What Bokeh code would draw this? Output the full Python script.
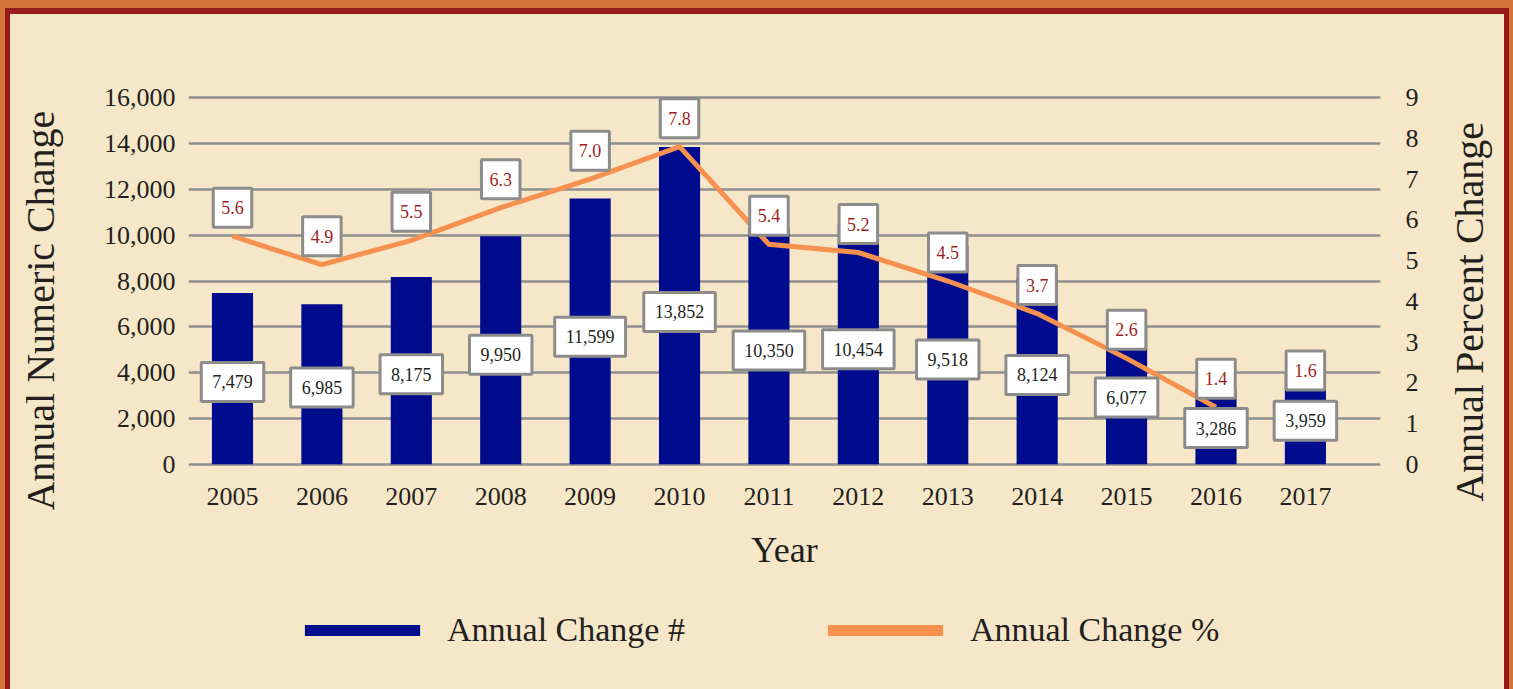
import math
from bokeh.plotting import figure
from bokeh.layouts import column, row
from bokeh.models import (ColumnDataSource, Range1d, LinearAxis, FixedTicker,
                          NumeralTickFormatter, Legend, LegendItem, Label)
from bokeh.embed import file_html
from bokeh.resources import INLINE
from bokeh.core.properties import value

# ---------------- data ----------------
years = [2005, 2006, 2007, 2008, 2009, 2010, 2011, 2012, 2013, 2014, 2015, 2016, 2017]
annual_change = [7479, 6985, 8175, 9950, 11599, 13852, 10350, 10454, 9518, 8124, 6077, 3286, 3959]
annual_pct = [5.6, 4.9, 5.5, 6.3, 7.0, 7.8, 5.4, 5.2, 4.5, 3.7, 2.6, 1.4, 1.6]
# in the source the percentage line stops at 2016
line_years = years[:-1]
line_pct = annual_pct[:-1]
left_ticks = [0, 2000, 4000, 6000, 8000, 10000, 12000, 14000, 16000]
right_ticks = [0, 1, 2, 3, 4, 5, 6, 7, 8, 9]

# ---------------- style ----------------
FONT = "Liberation Serif"
CREAM = "#F6E7C9"
NAVY = "#000B8D"
ORANGE = "#F79150"
GRID = "#8E8E90"
BOXLINE = "#8C8C8C"
PCT_TEXT = "#9E1F23"
TEXT = "#231F20"

TOP_H = 590

def no_align(f):
    if hasattr(f, "frame_align"):
        f.frame_align = False
    return f

def blank_fig(w, h):
    f = figure(width=w, height=h, x_range=Range1d(0, 1), y_range=Range1d(0, 1),
               x_axis_type=None, y_axis_type=None, output_backend="svg",
               toolbar_location=None, min_border=0,
               border_fill_color=CREAM, background_fill_color=CREAM,
               outline_line_color=None)
    f.xgrid.visible = False
    f.ygrid.visible = False
    return no_align(f)

p = figure(width=1374, height=TOP_H,
           x_range=Range1d(2004.508, 2017.84),
           y_range=Range1d(-100, 16100),
           output_backend="svg", toolbar_location=None,
           min_border_left=118, min_border_right=64,
           min_border_top=81, min_border_bottom=138,
           background_fill_color=CREAM, border_fill_color=CREAM,
           outline_line_color=None)
no_align(p)
p.extra_y_ranges = {"pct": Range1d(-100 / 16000 * 9, 9 + 100 / 16000 * 9)}

def style_axis(ax):
    ax.axis_line_color = None
    ax.major_tick_line_color = None
    ax.minor_tick_line_color = None
    ax.major_tick_out = 0
    ax.major_tick_in = 0
    ax.major_label_text_font = FONT
    ax.major_label_text_font_size = "26px"
    ax.major_label_text_color = TEXT
    ax.axis_label_text_font = FONT
    ax.axis_label_text_font_style = "normal"
    ax.axis_label_text_color = TEXT

# x axis
xa = p.xaxis[0]
style_axis(xa)
xa.ticker = FixedTicker(ticks=years)
xa.axis_label = "Year"
xa.axis_label_text_font_size = "36px"
xa.major_label_standoff = 21
xa.axis_label_standoff = 22

# left axis
ya = p.yaxis[0]
style_axis(ya)
ya.ticker = FixedTicker(ticks=left_ticks)
ya.formatter = NumeralTickFormatter(format="0,0")
ya.major_label_standoff = 13

# right axis
ra = LinearAxis(y_range_name="pct", ticker=FixedTicker(ticks=right_ticks))
style_axis(ra)
ra.major_label_standoff = 25
p.add_layout(ra, "right")

p.xgrid.visible = False
p.ygrid.ticker = FixedTicker(ticks=left_ticks)
p.ygrid.grid_line_color = GRID
p.ygrid.grid_line_width = 2.5

# bars
bar_src = ColumnDataSource(dict(x=years, top=annual_change))
bars = p.vbar(x="x", top="top", width=0.46, bottom=0, source=bar_src,
              fill_color=NAVY, line_color=None)

# line
line_src = ColumnDataSource(dict(x=line_years, y=line_pct))
p.line(x="x", y="y", source=line_src, y_range_name="pct",
       line_color=ORANGE, line_width=5, line_join="miter")

# number labels (placed around half the bar)
num_src = ColumnDataSource(dict(x=years,
                                y=[v * 0.48 for v in annual_change],
                                text=[f"{v:,}" for v in annual_change]))
p.text(x="x", y="y", text="text", source=num_src,
       text_font=value(FONT), text_font_size="18px", text_color=TEXT,
       text_align="center", text_baseline="middle",
       background_fill_color="white", border_line_color=BOXLINE,
       border_line_width=3, padding=dict(left=11, right=11, top=13, bottom=13))

# percent labels (above the line)
pct_src = ColumnDataSource(dict(x=years,
                                y=[v + 0.7 for v in annual_pct],
                                text=[f"{v:.1f}" for v in annual_pct]))
p.text(x="x", y="y", text="text", source=pct_src, y_range_name="pct",
       text_font=value(FONT), text_font_size="18px", text_color=PCT_TEXT,
       text_align="center", text_baseline="middle",
       background_fill_color="white", border_line_color=BOXLINE,
       border_line_width=3, padding=dict(left=8, right=8, top=13, bottom=13))

# ---- axis titles (vertical, reading bottom-to-top) ----
lt = blank_fig(60, TOP_H)
lt.add_layout(Label(x=0.5, y=0.498, text="Annual Numeric Change",
                    angle=math.pi / 2, text_align="center", text_baseline="middle",
                    text_font=FONT, text_font_size="40px", text_color=TEXT))
rt = blank_fig(60, TOP_H)
rt.add_layout(Label(x=0.42, y=0.496, text="Annual Percent Change",
                    angle=math.pi / 2, text_align="center", text_baseline="middle",
                    text_font=FONT, text_font_size="40px", text_color=TEXT))

# ---- legend strip (swatch proxies sit outside the visible range) ----
lg = blank_fig(1494, 675 - TOP_H)
sw_bar = lg.vbar(x=[-5], top=[0], width=0.5, fill_color=NAVY, line_color=None)
sw_line = lg.vbar(x=[-5], top=[0], width=0.5, fill_color=ORANGE, line_color=None)
legend = Legend(items=[LegendItem(label="Annual Change #", renderers=[sw_bar]),
                       LegendItem(label="Annual Change %", renderers=[sw_line])],
                orientation="horizontal", location=(280, 40),
                glyph_width=144, glyph_height=14, label_standoff=13, spacing=128,
                label_text_font=FONT, label_text_font_size="34px",
                label_text_color=TEXT, label_text_baseline="middle",
                background_fill_alpha=0, border_line_color=None,
                margin=0, padding=0)
lg.add_layout(legend)

layout = column(row(lt, p, rt), lg)

html = file_html(layout, INLINE)
style = ("<style>html{background:#D5743A;margin:0;padding:0;}"
         "body{margin:8px 4px 0 5px !important;padding:0 !important;"
         "border-style:solid;border-color:#971B1B;border-width:6px 5px 0 5px;"
         "background:" + CREAM + ";box-sizing:content-box;height:auto;overflow:hidden;}</style>")
html = html.replace("</head>", style + "</head>", 1)
open("out.html", "w").write(html)
